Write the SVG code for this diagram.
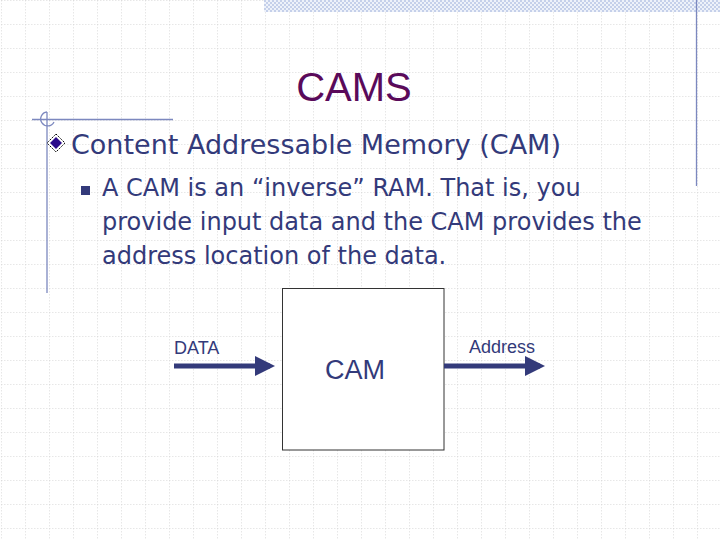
<svg xmlns="http://www.w3.org/2000/svg" width="720" height="540" viewBox="0 0 720 540">
<defs>
<pattern id="grid" width="24" height="24" patternUnits="userSpaceOnUse" x="1" y="0">
<path d="M0 0H24M0 0V24" fill="none" stroke="#cfcfcf" stroke-width="1" stroke-dasharray="1.5 1.5"/>
</pattern>
<pattern id="check" width="4" height="4" patternUnits="userSpaceOnUse">
<rect width="4" height="4" fill="#eef2fa"/>
<rect width="2" height="2" fill="#c5d0ea"/><rect x="2" y="2" width="2" height="2" fill="#c5d0ea"/>
</pattern>
<marker id="ah" markerWidth="4" markerHeight="4" refX="3" refY="2" orient="auto" markerUnits="strokeWidth">
<path d="M0 0L4 2L0 4Z" fill="#333a7a"/>
</marker>
<style>
.t{font-family:"Liberation Sans",Arial,sans-serif}
.v{font-family:Verdana,"DejaVu Sans",sans-serif;fill:#333a7a}
.deco{stroke:#7c88bf;stroke-width:1.3;fill:none}
.conn{stroke:#333a7a;stroke-width:5;fill:none}
</style>
</defs>
<rect width="720" height="540" fill="#fff"/>
<rect width="720" height="540" fill="url(#grid)"/>
<rect x="264" y="0" width="456" height="12" fill="url(#check)"/>
<line class="deco" x1="696.5" y1="0" x2="696.5" y2="186"/>
<line class="deco" x1="47" y1="112" x2="47" y2="293"/>
<line class="deco" x1="32" y1="119.5" x2="173" y2="119.5"/>
<path class="deco" d="M47 112 A7 7 0 1 0 54 122"/>
<text class="t" x="354" y="101" font-size="40" fill="#5a0a5a" text-anchor="middle">CAMS</text>
<g id="bullet1">
<path d="M56 134L65 143L56 152L47 143Z" fill="#fff" stroke="#000" stroke-width="1" stroke-dasharray="1.5 1"/>
<path d="M56 137L62 143L56 149L50 143Z" fill="#2a0a8a"/>
<text class="v" x="71" y="154" font-size="27">Content Addressable Memory (CAM)</text>
</g>
<g id="bullet2">
<rect x="81" y="186" width="9" height="9" fill="#333a7a"/>
<text class="v" font-size="24"><tspan x="102" y="196">A CAM is an “inverse” RAM. That is, you</tspan><tspan x="102" y="230">provide input data and the CAM provides the</tspan><tspan x="102" y="264">address location of the data.</tspan></text>
</g>
<g id="cam">
<rect x="282.5" y="288.5" width="161.5" height="161.5" fill="#fff" stroke="#333" stroke-width="1"/>
<text class="t" x="355" y="379" font-size="27" fill="#333a7a" text-anchor="middle">CAM</text>
</g>
<g id="labels">
<text class="t" x="174" y="354" font-size="18" fill="#333a7a">DATA</text>
<text class="t" x="469" y="353" font-size="18" fill="#333a7a">Address</text>
</g>
<g id="connectors">
<line class="conn" x1="174" y1="366" x2="270" y2="366" marker-end="url(#ah)"/>
<line class="conn" x1="444" y1="366" x2="540" y2="366" marker-end="url(#ah)"/>
</g>
</svg>
